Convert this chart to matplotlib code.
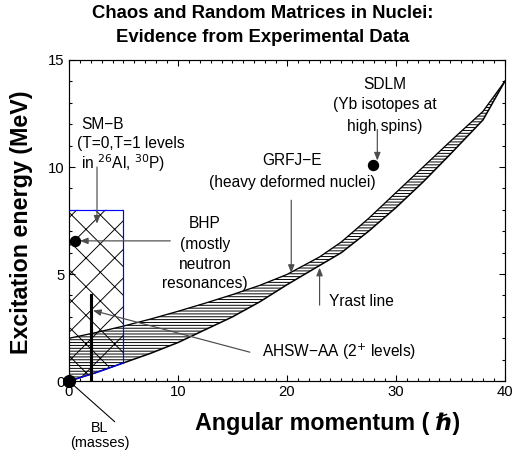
import matplotlib

matplotlib.use("Agg")

import matplotlib.pyplot as plt
import numpy as np
from matplotlib.ticker import MultipleLocator


plt.rcParams["font.family"] = ["Liberation Sans", "DejaVu Sans"]
plt.rcParams["hatch.linewidth"] = 0.8

# figure is drawn at 86 dpi so the crosshatch spacing matches the original
DPI = 86

# yrast band (lower = yrast line, upper = upper edge of the region)
band_j = [0, 2.5, 5, 7.5, 10, 12.5, 15, 17.5, 20, 23, 25, 27.5, 30, 32.5, 35, 38, 40]
band_lower = [0, 0.4, 0.85, 1.3, 1.8, 2.4, 3.0, 3.7, 4.5, 5.4, 6.0, 7.0, 8.1, 9.3, 10.6, 12.2, 14.0]
band_upper = [2.0, 2.27, 2.57, 2.9, 3.26, 3.64, 4.04, 4.47, 4.98, 5.8, 6.5, 7.6, 8.8, 10.0, 11.2, 12.6, 14.0]

# SM-B box: J from 0 to 5, E from yrast line up to 8 MeV
box_j = [0, 5]
box_top = 8.0

# BL vertical bar and data points
bar_j = 2.0
bar_top = 4.0
dots_j = [0.0, 0.55, 27.9]
dots_e = [0.0, 6.55, 10.1]
dots_size = [10, 8.5, 8.5]


def main() -> None:
    fig = plt.figure(figsize=(513 / DPI, 451 / DPI), dpi=DPI)
    ax = fig.add_axes([0.1345, 0.155, 0.8495, 0.712])

    j = np.asarray(band_j, dtype=float)
    lo = np.asarray(band_lower, dtype=float)
    hi = np.asarray(band_upper, dtype=float)

    # band with horizontal hatching
    ax.fill_between(j, lo, hi, facecolor="white", edgecolor="black",
                    hatch="-----", linewidth=0, zorder=2)
    ax.plot(j, lo, color="black", lw=1.3, zorder=3)
    ax.plot(j, hi, color="black", lw=1.1, zorder=3)

    # crosshatched box
    bj = j[j <= box_j[1]]
    blo = lo[j <= box_j[1]]
    ax.fill_between(bj, blo, box_top, facecolor="none", edgecolor="black",
                    hatch="x", linewidth=0, zorder=4)
    ax.plot([box_j[0], box_j[1], box_j[1]], [box_top, box_top, blo[-1]],
            color="blue", lw=1.0, zorder=5)
    ax.plot(bj, blo, color="blue", lw=1.0, zorder=5)

    ax.plot([bar_j, bar_j], [0, bar_top], color="black", lw=2.6, zorder=6)

    for x, y, s in zip(dots_j, dots_e, dots_size):
        ax.plot(x, y, "o", color="black", ms=s, clip_on=False, zorder=7)

    arrow = dict(arrowstyle="-|>,head_length=0.55,head_width=0.22",
                 color="0.3", lw=1.0, shrinkA=0, shrinkB=0)
    ax.annotate("", xy=(2.57, 7.35), xytext=(2.57, 10.0), arrowprops=arrow, zorder=8)
    ax.annotate("", xy=(1.0, 6.55), xytext=(9.3, 6.55), arrowprops=arrow, zorder=8)
    ax.annotate("", xy=(20.4, 5.05), xytext=(20.4, 8.45), arrowprops=arrow, zorder=8)
    ax.annotate("", xy=(23.0, 5.3), xytext=(23.0, 3.55), arrowprops=arrow, zorder=8)
    ax.annotate("", xy=(28.3, 10.3), xytext=(28.3, 11.75), arrowprops=arrow, zorder=8)
    ax.annotate("", xy=(2.2, 3.3), xytext=(16.6, 1.35), arrowprops=arrow, zorder=8)
    ax.annotate("", xy=(0, 0), xytext=(4.2, -1.9), annotation_clip=False,
                arrowprops=dict(arrowstyle="-", color="black", lw=0.9,
                                shrinkA=0, shrinkB=0))

    fs = 13
    ax.text(1.1, 12.0, "SM\u2212B", fontsize=fs, ha="left", va="center")
    ax.text(0.75, 11.1, "(T=0,T=1 levels", fontsize=fs, ha="left", va="center")
    ax.text(1.1, 10.2, "in $^{26}$Al, $^{30}$P)", fontsize=fs, ha="left", va="center")

    for text, y in zip(["BHP", "(mostly", "neutron", "resonances)"],
                       [7.35, 6.4, 5.45, 4.55]):
        ax.text(12.5, y, text, fontsize=fs, ha="center", va="center")

    ax.text(20.5, 10.3, "GRFJ\u2212E", fontsize=fs, ha="center", va="center")
    ax.text(20.5, 9.3, "(heavy deformed nuclei)", fontsize=fs, ha="center", va="center")

    ax.text(29.0, 13.85, "SDLM", fontsize=fs, ha="center", va="center")
    ax.text(29.0, 12.9, "(Yb isotopes at", fontsize=fs, ha="center", va="center")
    ax.text(29.0, 11.9, "high spins)", fontsize=fs, ha="center", va="center")

    ax.text(23.9, 3.7, "Yrast line", fontsize=fs, ha="left", va="center")
    ax.text(17.7, 1.35, "AHSW\u2212AA (2$^{+}$ levels)", fontsize=fs, ha="left", va="center")

    ax.text(2.85, -2.2, "BL", fontsize=12, ha="center", va="center", clip_on=False)
    ax.text(2.85, -2.88, "(masses)", fontsize=12, ha="center", va="center", clip_on=False)

    ax.set_xlim(0, 40)
    ax.set_ylim(0, 15)
    ax.xaxis.set_major_locator(MultipleLocator(10))
    ax.xaxis.set_minor_locator(MultipleLocator(1))
    ax.yaxis.set_major_locator(MultipleLocator(5))
    ax.yaxis.set_minor_locator(MultipleLocator(1))
    ax.tick_params(which="both", direction="in", top=True, right=True,
                   labelsize=12.5, width=0.9)
    ax.tick_params(which="major", length=5)
    ax.tick_params(which="minor", length=2.5)
    for s in ax.spines.values():
        s.set_linewidth(1.0)

    fig.text(328 / 513, 1 - 423 / 451, "Angular momentum ( \u210f)", fontsize=19.5,
             fontweight="bold", ha="center", va="center")
    fig.text(22 / 513, 1 - 222 / 451, "Excitation energy (MeV)", fontsize=19.5,
             fontweight="bold", ha="center", va="center", rotation=90)
    fig.text(263 / 513, 1 - 14 / 451, "Chaos and Random Matrices in Nuclei:",
             fontsize=15.5, fontweight="bold", ha="center", va="center")
    fig.text(263 / 513, 1 - 38 / 451, "Evidence from Experimental Data",
             fontsize=15.5, fontweight="bold", ha="center", va="center")

    fig.savefig("out.png", dpi=DPI)
    plt.close(fig)


if __name__ == "__main__":
    main()
